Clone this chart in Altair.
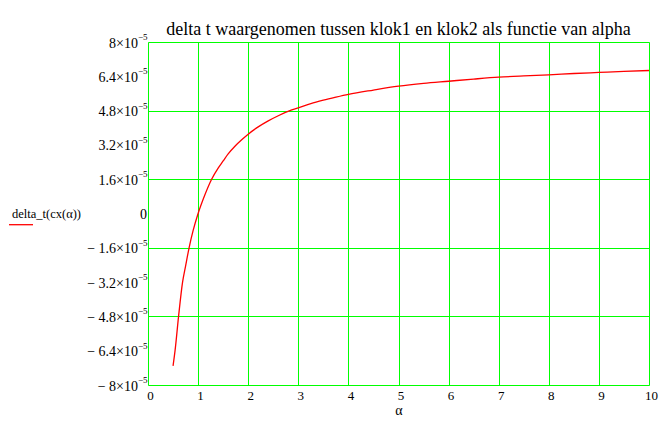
import altair as alt
import pandas as pd

# curve values
alpha = [0.5, 0.54, 0.61, 0.69, 0.75, 0.82, 0.9, 1.0, 1.13, 1.27, 1.4, 1.5, 1.6,
         1.74, 1.87, 2.0, 2.2, 2.4, 2.6, 2.87, 3.0, 3.25, 3.5, 3.75, 4.0, 4.5,
         5.0, 5.5, 6.0, 6.5, 7.0, 7.5, 8.0, 8.5, 9.0, 9.5, 10.0]
delta_t = [-7.11e-5, -6.4e-5, -4.8e-5, -3.2e-5, -2.45e-5, -1.6e-5, -0.8e-5, 0.0,
           0.84e-5, 1.6e-5, 2.12e-5, 2.45e-5, 2.78e-5, 3.15e-5, 3.44e-5, 3.70e-5,
           4.04e-5, 4.32e-5, 4.56e-5, 4.83e-5, 4.93e-5, 5.13e-5, 5.29e-5, 5.43e-5,
           5.56e-5, 5.76e-5, 5.94e-5, 6.07e-5, 6.17e-5, 6.27e-5, 6.36e-5, 6.42e-5,
           6.47e-5, 6.53e-5, 6.58e-5, 6.63e-5, 6.67e-5]

x_ticks = list(range(0, 11))
y_ticks = [8e-5, 6.4e-5, 4.8e-5, 3.2e-5, 1.6e-5, 0.0,
           -1.6e-5, -3.2e-5, -4.8e-5, -6.4e-5, -8e-5]
y_mant = ["8×10", "6.4×10", "4.8×10", "3.2×10", "1.6×10", "0",
          "− 1.6×10", "− 3.2×10", "− 4.8×10", "− 6.4×10", "− 8×10"]
y_exp = ["−5", "−5", "−5", "−5", "−5", "",
         "−5", "−5", "−5", "−5", "−5"]

title_text = "delta t waargenomen tussen klok1 en klok2 als functie van alpha"
y_title = "delta_t(cx(α))"
x_title = "α"

FONT = "Liberation Serif"

df = pd.DataFrame({"alpha": alpha, "dt": delta_t})
ticks = pd.DataFrame({"val": y_ticks, "mant": y_mant, "exp": y_exp})

xscale = alt.Scale(domain=[0, 10], nice=False, zero=False)
yscale = alt.Scale(domain=[-8e-5, 8e-5], nice=False, zero=False)

line = alt.Chart(df).mark_line(color="#FF0000", strokeWidth=1.3, interpolate="monotone").encode(
    x=alt.X("alpha:Q", scale=xscale,
            axis=alt.Axis(values=x_ticks, grid=True, gridColor="#00FF00", gridOpacity=1,
                          gridWidth=1, ticks=False, domain=False, title=None,
                          labelFont=FONT, labelFontSize=13, labelColor="#000000",
                          labelPadding=4, labelOffset=2, labelFlush=False)),
    y=alt.Y("dt:Q", scale=yscale,
            axis=alt.Axis(values=y_ticks, grid=True, gridColor="#00FF00", gridOpacity=1,
                          gridWidth=1, ticks=False, domain=False, labels=False, title=None)),
)

mant_sup = alt.Chart(ticks).transform_filter("datum.exp != ''").mark_text(
    font=FONT, fontSize=14, align="right", baseline="middle", dy=1.5, color="#000000"
).encode(x=alt.value(-10), y=alt.Y("val:Q", scale=yscale), text="mant:N")

mant_zero = alt.Chart(ticks).transform_filter("datum.exp == ''").mark_text(
    font=FONT, fontSize=14, align="right", baseline="middle", dy=1.5, color="#000000"
).encode(x=alt.value(-1), y=alt.Y("val:Q", scale=yscale), text="mant:N")

sup = alt.Chart(ticks).transform_filter("datum.exp != ''").mark_text(
    font=FONT, fontSize=9, align="right", baseline="middle", dy=-5, color="#000000"
).encode(x=alt.value(-0.5), y=alt.Y("val:Q", scale=yscale), text="exp:N")

title = alt.Chart(pd.DataFrame({"t": [title_text]})).mark_text(
    font=FONT, fontSize=18, align="center", baseline="alphabetic", color="#000000"
).encode(x=alt.value(250.5), y=alt.value(-7), text="t:N")

ytitle = alt.Chart(pd.DataFrame({"t": [y_title]})).mark_text(
    font=FONT, fontSize=12.5, align="left", baseline="alphabetic", color="#000000"
).encode(x=alt.value(-136), y=alt.value(176), text="t:N")

legend_line = alt.Chart(pd.DataFrame({"t": [y_title]})).mark_rule(
    color="#FF0000", strokeWidth=1.3
).encode(x=alt.value(-139), x2=alt.value(-115), y=alt.value(182.7))

xtitle = alt.Chart(pd.DataFrame({"t": [x_title]})).mark_text(
    font=FONT, fontSize=14, align="center", baseline="middle", color="#000000"
).encode(x=alt.value(251), y=alt.value(369), text="t:N")

chart = alt.layer(line, mant_sup, mant_zero, sup, title, ytitle, legend_line, xtitle).properties(
    width=501, height=343,
    autosize=alt.AutoSizeParams(type="none"),
    padding={"left": 140, "top": 34, "right": 12, "bottom": 36},
).configure_view(stroke="#000000", strokeWidth=1.5).configure(background="#FFFFFF")

chart.save("out.html", embed_options={"renderer": "svg", "actions": False})
